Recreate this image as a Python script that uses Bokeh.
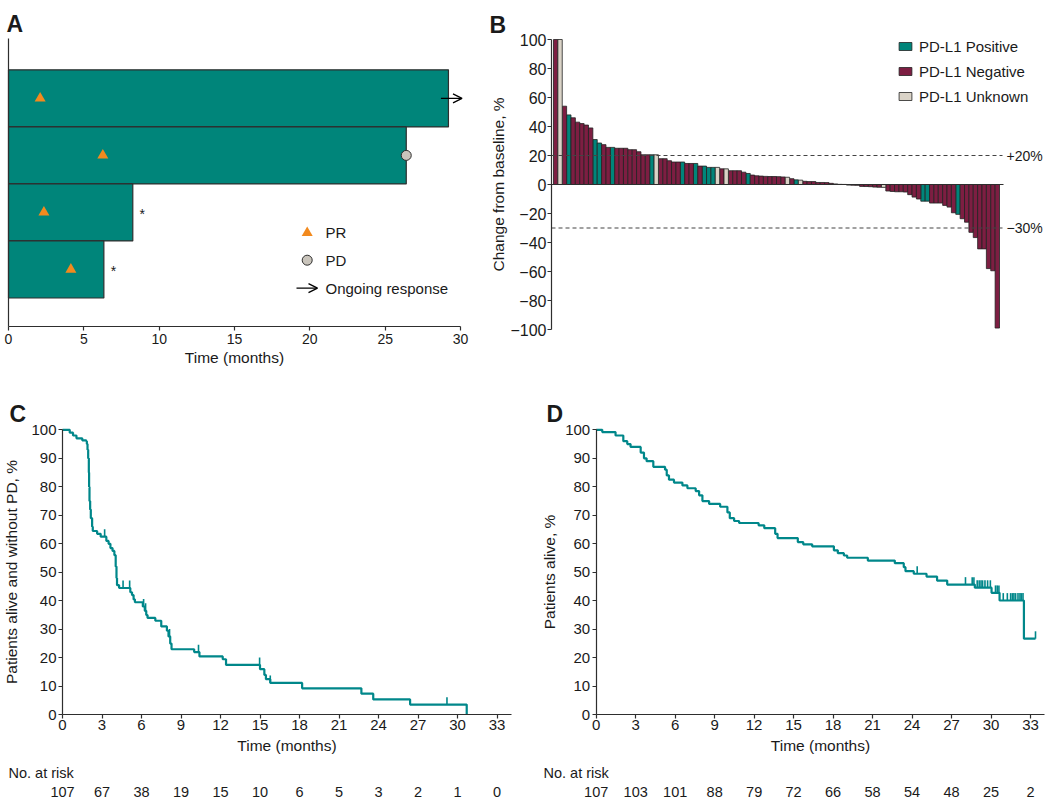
import numpy as np
from bokeh.plotting import figure
from bokeh.models import (Range1d, FixedTicker, Label, Arrow, OpenHead,
                          Legend, LegendItem)
from bokeh.layouts import column, row
from bokeh.embed import file_html
from bokeh.resources import INLINE

# ---------------------------------------------------------------- data
# Panel A - swimmer plot, patients listed top to bottom
a_duration = [29.2, 26.4, 8.25, 6.33]
a_pr_time = [2.1, 6.26, 2.35, 4.14]
a_pd_time = [None, 26.4, None, None]
a_ongoing = [True, False, False, False]
a_asterisk = [False, False, True, True]
a_ticks = [0, 5, 10, 15, 20, 25, 30]

# Panel B - waterfall (best change from baseline, %)
wf_values = [100, 100, 54, 48, 46, 43, 42, 41, 39, 31,
             28.6, 27.5, 25.6, 25.6, 25, 25, 25, 24, 24, 22.6,
             20.5, 20.5, 20.5, 20.5, 17.8, 17.8, 16.4, 15.5, 15.5, 15.5,
             14.5, 14.5, 14.5, 12.7, 12.7, 11.8, 11.8, 11.8, 10.8, 10.8,
             9.5, 9.5, 9.5, 8.5, 7.6, 6.5, 6, 5.8, 5.6, 5.5,
             5.5, 5.4, 5.2, 5, 4, 3.2, 3, 2.2, 2, 2,
             1.4, 1.4, 1.3, 0.8, 0.4, 0.1, 0.05, -0.4, -0.5, -0.6,
             -1.3, -1.4, -1.5, -1.8, -1.9, -2, -4.5, -4.8, -5, -5,
             -5.2, -7, -8.7, -10, -11.5, -11.5, -12.8, -12.8, -12.8, -14.4,
             -15.6, -19.5, -20.6, -23.6, -26, -33, -36.6, -44.4, -44.4, -58,
             -59.5, -99]
wf_status = list("NUNPNNNNNP" "PNNPNNNNNN" "NNPUNNNNNP" "NNPNPPPUNU"
                 "NNNNPNNNNN" "NNNUNPUNNN" "NNNNNNNNNN" "NNNNNUNNNN"
                 "NNNNPPNNNN" "NNPNNNNNNN" "NN")
wf_group_codes = ["P", "N", "U"]
wf_group_names = ["PD-L1 Positive", "PD-L1 Negative", "PD-L1 Unknown"]
wf_ticks = [-100, -80, -60, -40, -20, 0, 20, 40, 60, 80, 100]
wf_refs = [20, -30]
wf_ref_labels = ["+20%", "\u221230%"]

# Panel C - progression-free survival
pfs_t = [0, 0.55, 0.8, 1.06, 1.5, 1.8, 1.85, 1.9, 1.95, 2.0,
         2.02, 2.05, 2.1, 2.15, 2.25, 2.3, 2.63, 2.9, 3.33, 3.5,
         3.64, 3.8, 3.94, 4.04, 4.1, 4.14, 4.3, 5.15, 5.28, 5.4,
         5.5, 6.1, 6.25, 6.36, 6.46, 7.05, 7.5, 7.93, 8.05, 8.18,
         8.28, 10.0, 10.4, 12.17, 12.42, 15.0, 15.33, 15.45, 15.78, 18.2,
         22.7, 23.6, 26.4, 30.7]
pfs_s = [100, 99, 98, 97, 96.3, 96, 95, 93, 90, 85,
         80, 75, 72, 69, 66, 64.5, 63.5, 62.5, 61, 60,
         58.5, 57.5, 56, 52, 48, 45.5, 44.5, 43, 42, 40.5,
         39.5, 38, 36.5, 35, 34, 33, 31, 29.5, 27.5, 25,
         23, 22, 20.5, 19.5, 17.5, 16, 14, 12.5, 11.2, 9.3,
         7.4, 5.4, 3.6, 0]
pfs_censored = [3.2, 4.6, 5.1, 6.16, 6.31, 8.13, 10.33, 14.97, 15.78, 29.2]
pfs_at_risk = [107, 67, 38, 19, 15, 10, 6, 5, 3, 2, 1, 0]

# Panel D - overall survival
os_t = [0, 0.46, 1.47, 2.06, 2.36, 2.61, 3.38, 3.63, 3.83, 4.34,
        5.23, 5.36, 5.53, 5.91, 6.55, 6.93, 7.56, 7.82, 8.07, 8.58,
        9.42, 9.97, 10.15, 10.48, 10.86, 12.34, 12.77, 13.6, 13.78, 15.32,
        15.73, 16.41, 18.06, 18.36, 18.82, 19.07, 20.64, 22.69, 23.37, 23.5,
        24.13, 25.1, 25.9, 26.67, 28.77, 30.04, 30.65, 32.5, 33.38]
os_s = [100, 99.2, 98, 96, 95, 94, 92, 90, 89, 87,
        86, 84, 82.5, 81.5, 80.5, 79.5, 78.5, 77, 75, 74,
        73, 71, 69, 68, 67.3, 66.5, 65.5, 63.5, 62, 60.6,
        59.8, 59.1, 57.7, 56.7, 55.9, 55.1, 54.1, 53.2, 51.8, 50.4,
        49.5, 48.5, 47.1, 45.7, 44.6, 42.8, 40.1, 26.7, 26.7]
os_censored = [24.39, 28.06, 28.57, 28.7, 28.95, 29.1, 29.24, 29.36, 29.54,
               29.74, 29.95, 30.34, 30.47, 30.6, 30.93, 31.24, 31.49, 31.62,
               31.74, 31.87, 32.05, 32.2, 32.3, 32.43, 33.38]
os_at_risk = [107, 103, 101, 88, 79, 72, 66, 58, 54, 48, 25, 2]

km_months = [0, 3, 6, 9, 12, 15, 18, 21, 24, 27, 30, 33]
km_yticks = [0, 10, 20, 30, 40, 50, 60, 70, 80, 90, 100]

# ---------------------------------------------------------------- style
FONT = "Liberation Sans"
TEAL = "#00857A"
KM = "#00878A"
MAROON = "#7D1E42"
BEIGE = "#DAD3C7"
ORANGE = "#F28A1E"
DARK = "#2E2E2E"
TXT = "#1A1A1A"
wf_colors = {"P": TEAL, "N": MAROON, "U": BEIGE}


class Geo:
    """Figure box in page pixels, plus a linear page-pixel <-> data map."""
    def __init__(self, box, xmap, ymap):
        self.left, self.top, self.w, self.h = box
        (pa, da), (pb, db) = xmap
        self.kx, self.px0, self.dx0 = (db - da) / (pb - pa), pa, da
        (qa, ea), (qb, eb) = ymap
        self.ky, self.py0, self.dy0 = (eb - ea) / (qb - qa), qa, ea

    def dx(self, px):
        return self.dx0 + (px - self.px0) * self.kx

    def dy(self, py):
        return self.dy0 + (py - self.py0) * self.ky

    def figure(self):
        p = figure(title=None, width=self.w, height=self.h,
                   min_border_left=0, min_border_right=0,
                   min_border_top=0, min_border_bottom=0,
                   x_range=Range1d(self.dx(self.left), self.dx(self.left + self.w)),
                   y_range=Range1d(self.dy(self.top + self.h), self.dy(self.top)),
                   toolbar_location=None, output_backend="svg")
        p.outline_line_color = None
        p.xgrid.visible = False
        p.ygrid.visible = False
        p.background_fill_color = "white"
        p.border_fill_color = "white"
        return p


def style_axis(ax, tick_size, label_size, standoff=2, label_standoff=3):
    ax.axis_line_color = DARK
    ax.axis_line_width = 1.2
    ax.major_tick_line_color = DARK
    ax.major_tick_line_width = 1.2
    ax.major_tick_in = 0
    ax.major_tick_out = 4
    ax.minor_tick_line_color = None
    ax.major_label_text_font = FONT
    ax.major_label_text_font_size = tick_size
    ax.major_label_text_color = TXT
    ax.major_label_standoff = standoff
    ax.axis_label_text_font = FONT
    ax.axis_label_text_font_size = label_size
    ax.axis_label_text_font_style = "normal"
    ax.axis_label_text_color = TXT
    ax.axis_label_standoff = label_standoff


def add_text(p, x, y, text, size="15px", align="left", baseline="middle",
             bold=False):
    p.add_layout(Label(x=x, y=y, text=text, text_font=FONT,
                       text_font_size=size, text_align=align,
                       text_baseline=baseline, text_color=TXT,
                       text_font_style="bold" if bold else "normal"))


def panel_letter(p, geo, px, py, letter):
    add_text(p, geo.dx(px), geo.dy(py), letter, size="23px",
             baseline="alphabetic", bold=True)


# ---------------------------------------------------------------- panel A
gA = Geo((0, 0, 480, 375), ((8, 0), (460, 30)), ((326, 0), (38, 5.05)))
pA = gA.figure()
n_a = len(a_duration)
a_y = [n_a - i for i in range(n_a)]
pA.hbar(y=a_y, left=0, right=a_duration, height=1, fill_color=TEAL,
        line_color=DARK, line_width=1.2)
pA.scatter(x=a_pr_time, y=a_y, marker="triangle", size=11,
           fill_color=ORANGE, line_color=None)
pd_x = [t for t in a_pd_time if t is not None]
pd_y = [y for t, y in zip(a_pd_time, a_y) if t is not None]
pA.scatter(x=pd_x, y=pd_y, marker="circle", size=10, fill_color="#C9C4BB",
           line_color=DARK, line_width=1)
for d, y, ong, ast in zip(a_duration, a_y, a_ongoing, a_asterisk):
    if ong:
        pA.add_layout(Arrow(x_start=d - 0.5, y_start=y, x_end=d + 0.9, y_end=y,
                            line_color="black", line_width=1.3,
                            end=OpenHead(size=9, line_color="black",
                                         line_width=1.3)))
    if ast:
        pA.add_layout(Label(x=d + 0.45, y=y, text="*", text_font=FONT,
                            text_font_size="14px", text_baseline="middle",
                            text_color=TXT, y_offset=-2))
# legend (drawn by hand, as in the original)
pA.scatter(x=[gA.dx(306.7)], y=[gA.dy(232.3)], marker="triangle", size=11,
           fill_color=ORANGE, line_color=None)
pA.scatter(x=[gA.dx(306.7)], y=[gA.dy(259.7)], marker="circle", size=10,
           fill_color="#C9C4BB", line_color=DARK, line_width=1)
pA.add_layout(Arrow(x_start=gA.dx(296), y_start=gA.dy(287.7),
                    x_end=gA.dx(317), y_end=gA.dy(287.7),
                    line_color="black", line_width=1.3,
                    end=OpenHead(size=9, line_color="black", line_width=1.3)))
add_text(pA, gA.dx(325), gA.dy(232.3), "PR")
add_text(pA, gA.dx(325), gA.dy(259.7), "PD")
add_text(pA, gA.dx(325), gA.dy(287.7), "Ongoing response")
pA.xaxis.ticker = FixedTicker(ticks=a_ticks)
pA.xaxis.axis_label = "Time (months)"
pA.xaxis.fixed_location = 0
pA.xaxis.bounds = (0, 30)
style_axis(pA.xaxis, "14px", "15.5px", standoff=3, label_standoff=2)
pA.yaxis.ticker = FixedTicker(ticks=[])
pA.yaxis.fixed_location = 0
pA.yaxis.bounds = (0, 5.05)
style_axis(pA.yaxis, "14px", "14px", standoff=0, label_standoff=0)
pA.yaxis.major_tick_out = 0
panel_letter(pA, gA, 6, 23.5, "A")

# ---------------------------------------------------------------- panel B
n_b = len(wf_values)
gB = Geo((480, 0, 570, 375), ((553, 0.5), (999, n_b + 0.5)),
         ((329, -100), (39, 100)))
pB = gB.figure()
legend_items = []
for code, name in zip(wf_group_codes, wf_group_names):
    xs = [i + 1 for i, s in enumerate(wf_status) if s == code]
    ys = [wf_values[i] for i, s in enumerate(wf_status) if s == code]
    r = pB.vbar(x=xs, top=ys, bottom=0, width=1, fill_color=wf_colors[code],
                line_color="#222222", line_width=0.8)
    legend_items.append(LegendItem(label=name, renderers=[r]))
b_left, b_right = gB.dx(551), gB.dx(1003)
pB.segment(x0=[b_left], y0=[0], x1=[b_right], y1=[0], line_color=DARK,
           line_width=1.2)
pB.segment(x0=[b_left] * len(wf_refs), y0=wf_refs,
           x1=[gB.dx(1002)] * len(wf_refs), y1=wf_refs,
           line_color="#444444", line_width=1.2, line_dash="4 3")
for ref, lab in zip(wf_refs, wf_ref_labels):
    add_text(pB, gB.dx(1006), ref, lab, size="14px")
leg = Legend(items=legend_items, location=(417, 270), orientation="vertical",
             glyph_width=16, glyph_height=10, label_standoff=6,
             label_height=18, spacing=7, padding=0, margin=0,
             border_line_color=None, background_fill_alpha=0,
             label_text_font=FONT, label_text_font_size="15px",
             label_text_color=TXT)
pB.add_layout(leg)
pB.xaxis.visible = False
pB.yaxis.ticker = FixedTicker(ticks=wf_ticks)
pB.yaxis.major_label_overrides = {t: ("\u2212" + str(-t)) for t in wf_ticks if t < 0}
pB.yaxis.axis_label = "Change from baseline, %"
pB.yaxis.fixed_location = b_left
pB.yaxis.bounds = (-100, 100)
style_axis(pB.yaxis, "16px", "15.5px", standoff=1, label_standoff=0)
panel_letter(pB, gB, 489, 24, "B")


# ---------------------------------------------------------------- panels C, D
def km_value(times, surv, tc):
    idx = np.searchsorted(np.asarray(times), np.asarray(tc), side="right") - 1
    return np.asarray(surv)[idx]


def km_panel(geo, times, surv, cens, at_risk, ylabel, letter, letter_px,
             risk_px, ylabel_standoff):
    p = geo.figure()
    p.step(x=times, y=surv, mode="after", line_color=KM, line_width=2.2)
    cv = km_value(times, surv, cens)
    p.segment(x0=cens, y0=cv, x1=cens, y1=cv + 2.6, line_color=KM,
              line_width=1.6)
    p.xaxis.ticker = FixedTicker(ticks=km_months)
    p.yaxis.ticker = FixedTicker(ticks=km_yticks)
    p.xaxis.axis_label = "Time (months)"
    p.yaxis.axis_label = ylabel
    p.xaxis.fixed_location = 0
    p.yaxis.fixed_location = 0
    p.xaxis.bounds = (0, 34.1)
    p.yaxis.bounds = (0, 100)
    style_axis(p.xaxis, "15px", "15.5px", standoff=1, label_standoff=4)
    style_axis(p.yaxis, "15px", "15.5px", standoff=2,
               label_standoff=ylabel_standoff)
    add_text(p, geo.dx(risk_px), geo.dy(772), "No. at risk", size="14.5px")
    for m, n in zip(km_months, at_risk):
        add_text(p, m, geo.dy(791), str(n), size="14.5px", align="center")
    panel_letter(p, geo, letter_px, 413, letter)
    return p


gC = Geo((0, 375, 530, 425), ((62, 0), (457, 30)), ((714.3, 0), (429.3, 100)))
pC = km_panel(gC, pfs_t, pfs_s, pfs_censored, pfs_at_risk,
              "Patients alive and without PD, %", "C", 9, 8, 8)
gD = Geo((530, 375, 520, 425), ((595.7, 0), (1030, 33)),
         ((714.3, 0), (429.3, 100)))
pD = km_panel(gD, os_t, os_s, os_censored, os_at_risk,
              "Patients alive, %", "D", 546, 543, 4)

layout = column(row(pA, pB), row(pC, pD))
open("out.html", "w").write(file_html(layout, INLINE))
